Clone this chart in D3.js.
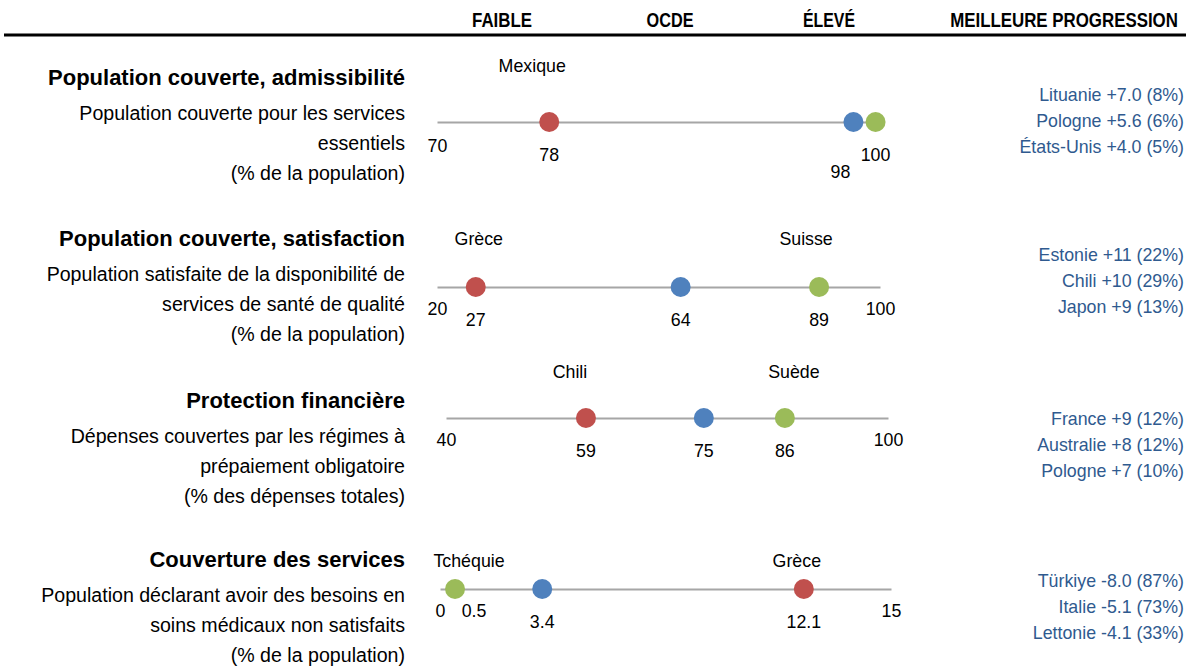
<!DOCTYPE html>
<html>
<head>
<meta charset="utf-8">
<script src="https://cdn.jsdelivr.net/npm/d3@7"></script>
<style>
  body { margin: 0; background: #fff; }
  svg text { font-family: "Liberation Sans", Arial, sans-serif; }
</style>
</head>
<body>
<script>
var headers = ["FAIBLE", "OCDE", "ÉLEVÉ", "MEILLEURE PROGRESSION"];

var indicators = [
  "Population couverte, admissibilité",
  "Population couverte, satisfaction",
  "Protection financière",
  "Couverture des services"
];

var descriptions = [
  ["Population couverte pour les services", "essentiels", "(% de la population)"],
  ["Population satisfaite de la disponibilité de", "services de santé de qualité", "(% de la population)"],
  ["Dépenses couvertes par les régimes à", "prépaiement obligatoire", "(% des dépenses totales)"],
  ["Population déclarant avoir des besoins en", "soins médicaux non satisfaits", "(% de la population)"]
];

var domains = [[70, 100], [20, 100], [40, 100], [0, 15]];
var showMax = [false, true, true, true];

var faible = [77.6, 27, 59, 12.1];
var ocde   = [98.2, 64, 75, 3.4];
var eleve  = [99.7, 89, 86, 0.5];

var faibleCountry = ["Mexique", "Grèce", "Chili", "Grèce"];
var eleveCountry  = ["", "Suisse", "Suède", "Tchéquie"];

var formats = [".0f", ".0f", ".0f", ".1f"];

var progression = [
  ["Lituanie +7.0 (8%)", "Pologne +5.6 (6%)", "États-Unis +4.0 (5%)"],
  ["Estonie +11 (22%)", "Chili +10 (29%)", "Japon +9 (13%)"],
  ["France +9 (12%)", "Australie +8 (12%)", "Pologne +7 (10%)"],
  ["Türkiye -8.0 (87%)", "Italie -5.1 (73%)", "Lettonie -4.1 (33%)"]
];

// layout (pixels)
var w = 1186, h = 670;
var colors = { faible: "#c0504d", ocde: "#4f81bd", eleve: "#9bbb59" };
var rows = [
  { head: 85,  line: 122, range: [437, 880], right: 101, cy: -50,
    nudge: { faible: [-17, 0], eleve: [0, 0] }, vnudge: { faible: [0, 0], ocde: [-13, 17], eleve: [0, 0] } },
  { head: 246, line: 287, range: [437, 880], right: 261, cy: -42,
    nudge: { faible: [3, 0], eleve: [-13, 0] }, vnudge: { faible: [0, 0], ocde: [0, 0], eleve: [0, 0] } },
  { head: 408, line: 418, range: [446, 888], right: 425, cy: -40,
    nudge: { faible: [-16, 0], eleve: [9, 0] }, vnudge: { faible: [0, 0], ocde: [0, 0], eleve: [0, 0] } },
  { head: 567, line: 589, range: [440, 891], right: 587, cy: -22,
    nudge: { faible: [-7, 0], eleve: [14, 0] }, vnudge: { faible: [0, 0], ocde: [0, 0], eleve: [19, -11] } }
];
// header centres and target widths (condensed look)
var headerX = [502, 670, 829, 1064];
var headerW = [60, 47, 52, 228];

var svg = d3.select("body")
  .append("svg")
  .attr("width", w)
  .attr("height", h);

svg.selectAll("text.header")
  .data(headers)
  .enter()
  .append("text")
  .attr("class", "header")
  .attr("text-anchor", "middle")
  .attr("font-weight", "bold")
  .attr("font-size", "21px")
  .attr("fill", "#000")
  .text(function(d) { return d; })
  .attr("transform", function(d, i) {
    var k = headerW[i] / this.getComputedTextLength();
    return "translate(" + headerX[i] + ",27) scale(" + k + ",1)";
  });

svg.append("line")
  .attr("x1", 4)
  .attr("x2", w)
  .attr("y1", 35)
  .attr("y2", 35)
  .attr("stroke", "#000")
  .attr("stroke-width", 3);

indicators.forEach(function(name, i) {
  var r = rows[i];
  var g = svg.append("g");

  g.append("text")
    .attr("x", 405)
    .attr("y", r.head)
    .attr("text-anchor", "end")
    .attr("font-weight", "bold")
    .attr("font-size", "22px")
    .attr("fill", "#000")
    .text(name);

  g.selectAll("text.desc")
    .data(descriptions[i])
    .enter()
    .append("text")
    .attr("class", "desc")
    .attr("x", 405)
    .attr("y", function(d, j) { return r.head + 35 + j * 30; })
    .attr("text-anchor", "end")
    .attr("font-size", "19.6px")
    .attr("fill", "#000")
    .text(function(d) { return d; });

  var xScale = d3.scaleLinear()
    .domain(domains[i])
    .range(r.range);

  var ticks = showMax[i] ? domains[i] : [domains[i][0]];

  var axis = d3.axisBottom()
    .scale(xScale)
    .tickValues(ticks)
    .tickSize(0)
    .tickSizeOuter(0)
    .tickPadding(i == 0 ? 17 : 15)
    .tickFormat(d3.format("d"));

  var ax = g.append("g")
    .attr("class", "axis")
    .attr("transform", "translate(0," + r.line + ")")
    .call(axis);
  ax.select(".domain")
    .attr("stroke", "#a6a6a6")
    .attr("stroke-width", 2);
  ax.selectAll("text")
    .attr("font-size", "17.8px")
    .attr("fill", "#000")
    .style("font-family", "'Liberation Sans', Arial, sans-serif");

  var points = [
    { key: "faible", v: faible[i], country: faibleCountry[i] },
    { key: "ocde",   v: ocde[i],   country: "" },
    { key: "eleve",  v: eleve[i],  country: eleveCountry[i] }
  ];
  var fmt = d3.format(formats[i]);

  g.selectAll("circle")
    .data(points)
    .enter()
    .append("circle")
    .attr("cx", function(d) { return xScale(d.v); })
    .attr("cy", r.line)
    .attr("r", 10)
    .attr("fill", function(d) { return colors[d.key]; });

  g.selectAll("text.value")
    .data(points)
    .enter()
    .append("text")
    .attr("class", "value")
    .attr("x", function(d) { return xScale(d.v) + r.vnudge[d.key][0]; })
    .attr("y", function(d) { return r.line + 39 + r.vnudge[d.key][1]; })
    .attr("text-anchor", "middle")
    .attr("font-size", "17.8px")
    .attr("fill", "#000")
    .text(function(d) { return fmt(d.v); });

  g.selectAll("text.country")
    .data(points.filter(function(d) { return d.country != ""; }))
    .enter()
    .append("text")
    .attr("class", "country")
    .attr("x", function(d) { return xScale(d.v) + r.nudge[d.key][0]; })
    .attr("y", r.line + r.cy)
    .attr("text-anchor", "middle")
    .attr("font-size", "17.8px")
    .attr("fill", "#000")
    .text(function(d) { return d.country; });

  g.selectAll("text.prog")
    .data(progression[i])
    .enter()
    .append("text")
    .attr("class", "prog")
    .attr("x", 1184)
    .attr("y", function(d, j) { return r.right + j * 26; })
    .attr("text-anchor", "end")
    .attr("font-size", "17.8px")
    .attr("fill", "#2f5a8f")
    .text(function(d) { return d; });
});
</script>
</body>
</html>
